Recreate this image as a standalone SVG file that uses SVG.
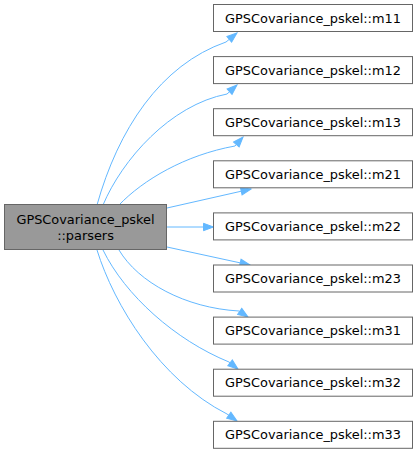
<svg xmlns="http://www.w3.org/2000/svg" width="418" height="454" viewBox="0 0 418 454">
<style>
.n rect{fill:#ffffff;stroke:#666666;stroke-width:1}
.root rect{fill:#999999;stroke:#666666;stroke-width:1}
text{font-family:"DejaVu Sans",sans-serif;font-size:12.9px;fill:#000000;text-anchor:middle}
.e path{fill:none;stroke:#63b8ff;stroke-width:1;marker-end:url(#ah)}
</style>
<defs>
<marker id="ah" markerUnits="userSpaceOnUse" markerWidth="12" markerHeight="10" refX="10" refY="4" orient="auto" overflow="visible">
<path d="M0,0.3 L10,4 L0,7.7 z" fill="#63b8ff" stroke="#63b8ff" stroke-width="1"/>
</marker>
</defs>
<g id="connectors" class="e">
<path d="M97,205 C118,130 160,65 226,42 L237,33"/>
<path d="M103,205 C122,160 170,105 227,94 L237,85"/>
<path d="M119,205 C143,180 185,155 235,146 L243,137"/>
<path d="M167,208 L251,189"/>
<path d="M167,227 L213.5,227"/>
<path d="M167,247 L250,265"/>
<path d="M119,250 C138,282 185,308 239,311 L248,317"/>
<path d="M103,250 C125,295 175,340 229,362 L238,369"/>
<path d="M97,250 C114,305 160,380 227,414 L237,421"/>
</g>
<g id="node-parsers" class="root">
<rect x="4.5" y="204.5" width="162" height="45"/>
<text x="85.5" y="223.5">GPSCovariance_pskel</text>
<text x="85.5" y="239.5">::parsers</text>
</g>
<g id="node-m11" class="n"><rect x="213.5" y="4.5" width="199" height="27"/><text x="313" y="22.5">GPSCovariance_pskel::m11</text></g>
<g id="node-m12" class="n"><rect x="213.5" y="56.6" width="199" height="27"/><text x="313" y="74.6">GPSCovariance_pskel::m12</text></g>
<g id="node-m13" class="n"><rect x="213.5" y="108.7" width="199" height="27"/><text x="313" y="126.7">GPSCovariance_pskel::m13</text></g>
<g id="node-m21" class="n"><rect x="213.5" y="160.8" width="199" height="27"/><text x="313" y="178.8">GPSCovariance_pskel::m21</text></g>
<g id="node-m22" class="n"><rect x="213.5" y="212.9" width="199" height="27"/><text x="313" y="230.9">GPSCovariance_pskel::m22</text></g>
<g id="node-m23" class="n"><rect x="213.5" y="265" width="199" height="27"/><text x="313" y="283">GPSCovariance_pskel::m23</text></g>
<g id="node-m31" class="n"><rect x="213.5" y="317.1" width="199" height="27"/><text x="313" y="335.1">GPSCovariance_pskel::m31</text></g>
<g id="node-m32" class="n"><rect x="213.5" y="369.2" width="199" height="27"/><text x="313" y="387.2">GPSCovariance_pskel::m32</text></g>
<g id="node-m33" class="n"><rect x="213.5" y="421.3" width="199" height="27"/><text x="313" y="439.3">GPSCovariance_pskel::m33</text></g>
</svg>
